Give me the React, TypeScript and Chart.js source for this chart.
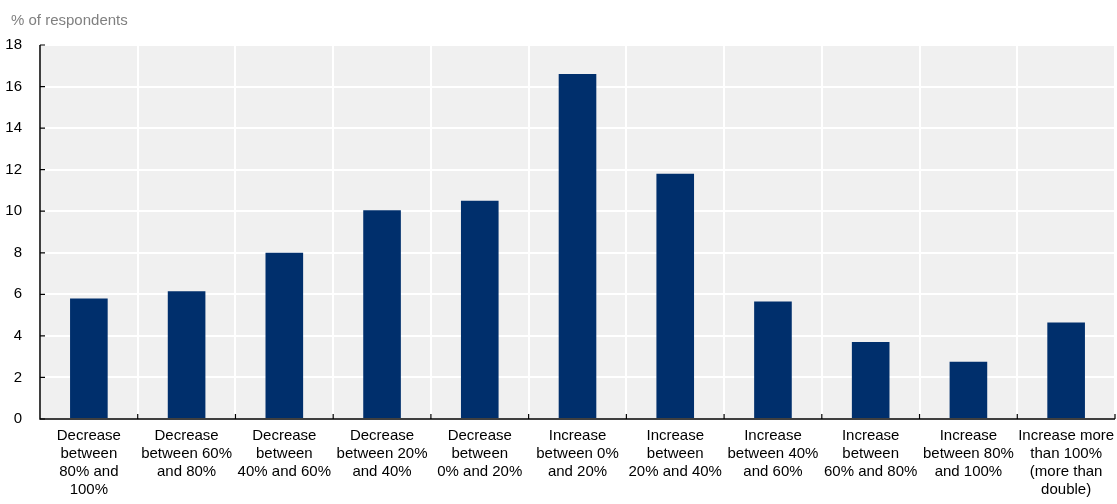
import React, { useEffect, useRef } from "react";
import { Chart, registerables } from "chart.js";

Chart.register(...registerables);

const categories: string[][] = [
  ["Decrease", "between", "80% and", "100%"],
  ["Decrease", "between 60%", "and 80%"],
  ["Decrease", "between", "40% and 60%"],
  ["Decrease", "between 20%", "and 40%"],
  ["Decrease", "between", "0% and 20%"],
  ["Increase", "between 0%", "and 20%"],
  ["Increase", "between", "20% and 40%"],
  ["Increase", "between 40%", "and 60%"],
  ["Increase", "between", "60% and 80%"],
  ["Increase", "between 80%", "and 100%"],
  ["Increase more", "than 100%", "(more than", "double)"],
];

const respondents: number[] = [5.8, 6.15, 8.0, 10.05, 10.5, 16.6, 11.8, 5.65, 3.7, 2.75, 4.65];

const yTicks: number[] = [0, 2, 4, 6, 8, 10, 12, 14, 16, 18];

const unitLabel = "% of respondents";

const FONT = "'Liberation Sans', Arial, sans-serif";

const decorPlugin = {
  id: "decor",
  beforeDraw(chart: any) {
    const { ctx, chartArea } = chart;
    ctx.save();
    ctx.fillStyle = "#f0f0f0";
    ctx.fillRect(chartArea.left, chartArea.top, chartArea.right - chartArea.left, chartArea.bottom - chartArea.top);
    ctx.fillStyle = "#808080";
    ctx.font = `15px ${FONT}`;
    ctx.textBaseline = "middle";
    ctx.textAlign = "left";
    ctx.fillText(unitLabel, 11, 21);
    ctx.restore();
  },
  afterDatasetsDraw(chart: any) {
    const { ctx, chartArea } = chart;
    const x = chart.scales.x;
    const y = chart.scales.y;
    ctx.save();
    ctx.strokeStyle = "#000";
    ctx.lineWidth = 1.5;
    ctx.beginPath();
    ctx.moveTo(chartArea.left, chartArea.top);
    ctx.lineTo(chartArea.left, chartArea.bottom);
    ctx.lineTo(chartArea.right, chartArea.bottom);
    ctx.stroke();
    ctx.lineWidth = 1.2;
    ctx.beginPath();
    for (const v of yTicks) {
      const py = y.getPixelForValue(v);
      ctx.moveTo(chartArea.left, py);
      ctx.lineTo(chartArea.left + 5, py);
    }
    const n = categories.length;
    const step = x.getPixelForValue(1) - x.getPixelForValue(0);
    for (let i = 1; i <= n; i++) {
      const px = x.getPixelForValue(i - 1) + step / 2;
      ctx.moveTo(px, chartArea.bottom);
      ctx.lineTo(px, chartArea.bottom - 5);
    }
    ctx.stroke();
    ctx.restore();
  },
};

export default function App() {
  const ref = useRef<HTMLCanvasElement | null>(null);
  useEffect(() => {
    document.body.style.margin = "0";
    const canvas = ref.current!;
    const chart = new Chart(canvas, {
      type: "bar",
      data: {
        labels: categories,
        datasets: [
          {
            data: respondents,
            backgroundColor: "#002F6C",
            borderWidth: 0,
            barPercentage: 0.385,
            categoryPercentage: 1,
          },
        ],
      },
      options: {
        animation: false,
        responsive: false,
        maintainAspectRatio: false,
        layout: { padding: { top: 45, right: 2, left: 0, bottom: 0 } },
        plugins: {
          legend: { display: false },
          title: { display: false },
          tooltip: { enabled: false },
        },
        scales: {
          x: {
            offset: true,
            grid: { display: true, offset: true, color: "#ffffff", lineWidth: 2, drawTicks: false },
            border: { display: false },
            ticks: {
              autoSkip: false,
              maxRotation: 0,
              minRotation: 0,
              padding: 8,
              color: "#000",
              font: { family: FONT, size: 15, lineHeight: 1.2 },
            },
            afterFit: (s: any) => {
              s.height = 85;
              s.paddingLeft = 0;
              s.paddingRight = 0;
            },
          },
          y: {
            min: 0,
            max: 18,
            afterBuildTicks: (s: any) => {
              s.ticks = yTicks.map((v) => ({ value: v }));
            },
            grid: { color: "#ffffff", lineWidth: 2, drawTicks: false },
            border: { display: false },
            ticks: {
              padding: 18,
              color: "#000",
              font: { family: FONT, size: 15 },
            },
            afterFit: (s: any) => {
              s.width = 40;
            },
          },
        },
      },
      plugins: [decorPlugin],
    });
    return () => chart.destroy();
  }, []);
  return <canvas ref={ref} width={1117} height={504} style={{ display: "block" }} />;
}
